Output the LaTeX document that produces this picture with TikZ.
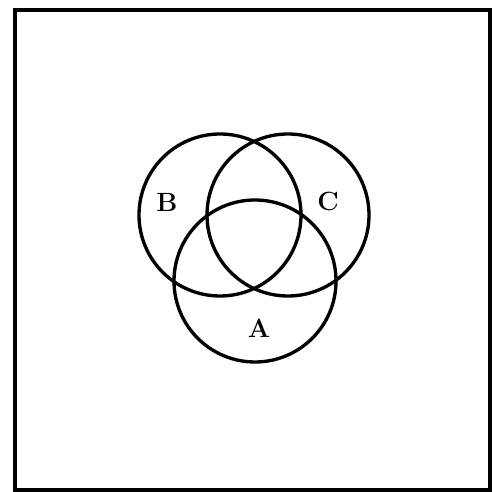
\documentclass[tikz,border=0pt]{standalone}
\usetikzlibrary{positioning}

\begin{document}
\begin{tikzpicture}[
  x=0.02cm, y=-0.02cm,
  set/.style={line width=1.9pt},
  setname/.style={font=\bfseries\fontsize{15}{17}\selectfont}
]
  \useasboundingbox (0,0) rectangle (492,492);
  \draw[line width=1.8pt] (15,10) rectangle (490,490);
  % the three sets
  \draw[set] (220,215) circle (81);
  \draw[set] (288,215) circle (81);
  \draw[set] (255,281) circle (81);
  \node[setname] (labB) at (167,202) {B};
  \node[setname] (labC) at (328,201) {C};
  \node[setname] (labA) at (259,328) {A};
\end{tikzpicture}
\end{document}
